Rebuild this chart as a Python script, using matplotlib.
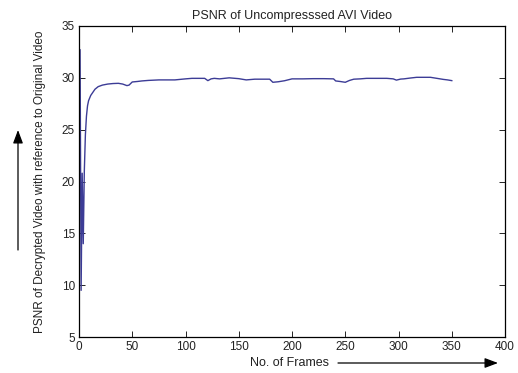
import numpy as np
import matplotlib
matplotlib.use("Agg")
import matplotlib.pyplot as plt

plt.rcParams['font.family'] = ['Liberation Sans', 'DejaVu Sans']

# ----------------------------
# PSNR values, per frame
# ----------------------------
frames = [1, 2, 3, 4, 5, 6, 7, 8, 9, 11, 13, 15, 18, 22, 27, 32, 37, 41, 45, 47,
          50, 55, 59, 65, 75, 90, 100, 106, 112, 118, 121, 124, 127, 132, 141,
          150, 157, 165, 172, 179, 182, 187, 193, 200, 210, 220, 230, 239, 241,
          245, 250, 254, 258, 264, 270, 280, 289, 295, 298, 302, 305, 311, 317,
          324, 330, 336, 342, 346, 350]
psnr = [32.7, 9.5, 20.8, 14.0, 21.0, 24.5, 26.3, 27.3, 27.8, 28.3, 28.6, 28.9,
        29.15, 29.3, 29.4, 29.45, 29.47, 29.4, 29.25, 29.3,
        29.6, 29.65, 29.7, 29.75, 29.8, 29.8, 29.9, 29.95, 29.95, 29.95, 29.73,
        29.9, 29.95, 29.9, 30.0,
        29.92, 29.8, 29.87, 29.87, 29.87, 29.57, 29.62, 29.72, 29.9, 29.9, 29.92,
        29.92, 29.9, 29.7,
        29.65, 29.57, 29.75, 29.87, 29.9, 29.95, 29.95, 29.95, 29.9, 29.78, 29.88,
        29.9, 29.98, 30.05,
        30.05, 30.05, 29.95, 29.85, 29.8, 29.73]

fig = plt.figure(figsize=(5.18, 3.73), dpi=100)
ax = fig.add_axes([0.1525, 0.0965, 0.8225, 0.8338])

ax.plot(frames, psnr, color='#3c3c96', linewidth=1.0)

ax.set_xlim([0, 400])
ax.set_ylim([5, 35])
ax.set_xticks(np.arange(0, 401, 50))
ax.set_yticks(np.arange(5, 36, 5))
ax.tick_params(direction='in', top=True, right=True, length=4, width=0.6,
               labelsize=8.5, pad=3, labelcolor='#222222')
for s in ax.spines.values():
    s.set_linewidth(0.9)

ax.set_title('PSNR of Uncompresssed AVI Video', fontsize=9, pad=5,
             color='#222222')
ax.set_ylabel('PSNR of Decrypted Video with reference to Original Video',
              fontsize=8.5, color='#222222')
ax.yaxis.set_label_coords(-0.077, 0.5)

# axis arrows, drawn in figure pixels like the original annotations
fig.text(250 / 518, 1 - 363 / 373, 'No. of Frames', fontsize=9,
         ha='left', va='center', color='#222222')
fig.add_artist(matplotlib.patches.FancyArrowPatch(
    (338 / 518, 1 - 363 / 373), (498 / 518, 1 - 363 / 373),
    transform=fig.transFigure, arrowstyle='-|>,head_length=8,head_width=3',
    color='black', linewidth=0.9, shrinkA=0, shrinkB=0))
fig.add_artist(matplotlib.patches.FancyArrowPatch(
    (18 / 518, 1 - 250 / 373), (18 / 518, 1 - 130 / 373),
    transform=fig.transFigure, arrowstyle='-|>,head_length=8,head_width=3',
    color='black', linewidth=0.9, shrinkA=0, shrinkB=0))

fig.savefig('out.png', dpi=100)
